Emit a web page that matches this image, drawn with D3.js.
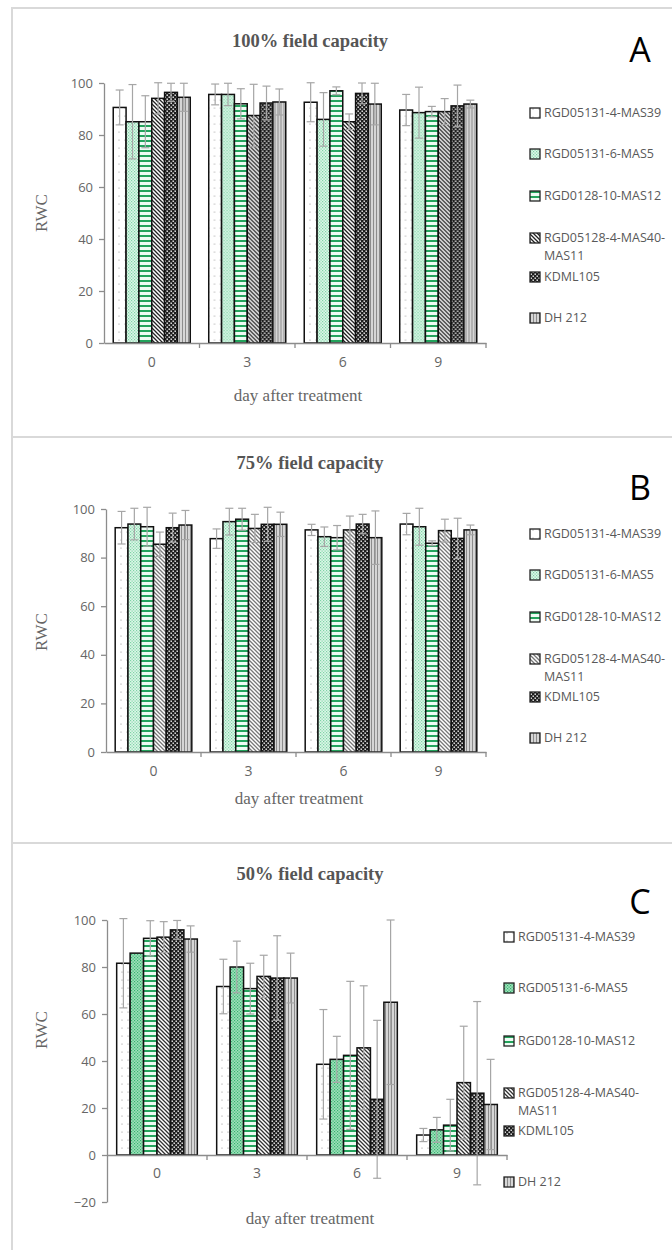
<!DOCTYPE html>
<html>
<head>
<meta charset="utf-8">
<script src="https://cdn.jsdelivr.net/npm/d3@7"></script>
<style>
  body { margin: 0; background: #fff; }
  svg { display: block; }
</style>
</head>
<body>
<svg id="chart" width="672" height="1250"></svg>
<script>
////////////////////////////////////////////////////////////////////////////////
// Data
var days = ["0", "3", "6", "9"]
var cultivars = ["RGD05131-4-MAS39", "RGD05131-6-MAS5", "RGD0128-10-MAS12",
                 "RGD05128-4-MAS40-MAS11", "KDML105", "DH 212"]
var legendLines = [["RGD05131-4-MAS39"], ["RGD05131-6-MAS5"], ["RGD0128-10-MAS12"],
                   ["RGD05128-4-MAS40-", "MAS11"], ["KDML105"], ["DH 212"]]

// rows = day, columns = cultivar
var rwc100 = [[90.6, 85.1, 85.1, 94.1, 96.4, 94.5],
              [95.6, 95.6, 92.0, 87.5, 92.3, 92.7],
              [92.6, 86.0, 97.0, 85.1, 96.0, 91.9],
              [89.6, 88.6, 89.0, 89.0, 91.2, 91.9]]
var err100 = [[6.7, 14.3, 10, 6, 3.5, 5.4],
              [4, 4.3, 5.8, 12, 6.5, 5],
              [7.5, 10.3, 1.5, 3, 4, 8],
              [6, 9.8, 2, 5, 8, 1.5]]

var rwc75 = [[92.3, 93.8, 92.7, 85.5, 92.3, 93.4],
             [87.8, 94.8, 95.8, 92.0, 93.7, 93.7],
             [91.4, 88.6, 88.2, 91.4, 93.8, 88.2],
             [93.8, 92.7, 85.9, 91.1, 87.9, 91.4]]
var err75 = [[6.7, 6.5, 8, 5, 6, 6],
             [4, 5.5, 4.5, 5.8, 7, 5],
             [2.3, 4, 5, 5.7, 4, 11],
             [4.4, 7.6, 1, 4.7, 8.3, 2]]

var rwc50 = [[81.6, 85.9, 92.2, 92.7, 95.8, 91.9],
             [71.7, 80.0, 70.8, 76.0, 75.3, 75.3],
             [38.6, 40.7, 42.4, 45.6, 23.7, 65.0],
             [8.5, 10.7, 12.7, 30.8, 26.3, 21.5]]
var err50 = [[19, 0, 7.5, 6.6, 4, 5.6],
             [11.6, 11, 10.8, 9, 18, 10.6],
             [23.3, 9.8, 31.5, 26.4, 33.6, 35],
             [2.8, 5.3, 11, 24, 39, 19.2]]

var yTicks100 = [0, 20, 40, 60, 80, 100]
var yTicks50 = [-20, 0, 20, 40, 60, 80, 100]

////////////////////////////////////////////////////////////////////////////////
// Layout
var panels = [
  { title: "100% field capacity", letter: "A", values: rwc100, errors: err100,
    ticks: yTicks100, box: [12, 8, 437], titleY: 47, letterY: 62,
    x: [104, 486], y: [343, 83], domain: [0, 100], tickY: 371, xTitleY: 401, rwcY: 213,
    legX: 530, legY: [113, 154, 196, 238, 277, 318], hatch: "#222", green: "light" },
  { title: "75% field capacity", letter: "B", values: rwc75, errors: err75,
    ticks: yTicks100, box: [12, 437, 843], titleY: 469, letterY: 500,
    x: [106, 486], y: [752, 509], domain: [0, 100], tickY: 780, xTitleY: 804, rwcY: 632,
    legX: 530, legY: [534, 575, 617, 659, 697, 738], hatch: "#777", green: "light" },
  { title: "50% field capacity", letter: "C", values: rwc50, errors: err50,
    ticks: yTicks50, box: [12, 843, 1262], titleY: 880, letterY: 914,
    x: [107, 507], y: [1202, 920], domain: [-20, 100], tickY: 1182, xTitleY: 1224, rwcY: 1030,
    legX: 504, legY: [937, 988, 1041, 1093, 1131, 1182], hatch: "#333", green: "strong" }
]

var svg = d3.select("#chart")
var defs = svg.append("defs")

function pattern(id, w, h) {
  return defs.append("pattern").attr("id", id)
    .attr("patternUnits", "userSpaceOnUse").attr("width", w).attr("height", h)
}

// 1: white with sparse dots
var p = pattern("dots", 6, 8)
p.append("rect").attr("width", 6).attr("height", 8).attr("fill", "#fff")
p.append("circle").attr("cx", 3).attr("cy", 4).attr("r", 0.6).attr("fill", "#8a8a8a")

// 2: green fine dots
;[["light", "#dcf7e8", "#7fd3a6"], ["strong", "#9fe0bb", "#33b36e"]].forEach(function(c) {
  var q = pattern("green-" + c[0], 3, 3)
  q.append("rect").attr("width", 3).attr("height", 3).attr("fill", c[1])
  q.append("rect").attr("x", 0).attr("y", 0).attr("width", 1.2).attr("height", 1.2).attr("fill", c[2])
  q.append("rect").attr("x", 1.5).attr("y", 1.5).attr("width", 1.2).attr("height", 1.2).attr("fill", c[2])
})

// 3: horizontal green stripes
p = pattern("hstripe", 4, 5)
p.append("rect").attr("width", 4).attr("height", 5).attr("fill", "#eefbf3")
p.append("rect").attr("y", 0).attr("width", 4).attr("height", 2).attr("fill", "#23a35c")

// 4: diagonal hatch, one per panel colour
panels.forEach(function(pn, i) {
  var q = pattern("hatch" + i, 4, 4)
  q.append("rect").attr("width", 4).attr("height", 4).attr("fill", "#fff")
  q.append("path").attr("d", "M-1,-1 L5,5 M-1,3 L1,5 M3,-1 L5,1")
    .attr("stroke", pn.hatch).attr("stroke-width", 1.3)
})

// 5: dark checker
p = pattern("checker", 4, 4)
p.append("rect").attr("width", 4).attr("height", 4).attr("fill", "#1e1e1e")
p.append("rect").attr("x", 0.5).attr("y", 0.5).attr("width", 1.4).attr("height", 1.4).attr("fill", "#fff")
p.append("rect").attr("x", 2.5).attr("y", 2.5).attr("width", 1.4).attr("height", 1.4).attr("fill", "#fff")

// 6: vertical gray stripes
p = pattern("vstripe", 3, 4)
p.append("rect").attr("width", 3).attr("height", 4).attr("fill", "#d6d6d6")
p.append("rect").attr("width", 1).attr("height", 4).attr("fill", "#8c8c8c")

function fills(i, pn) {
  return ["url(#dots)", "url(#green-" + pn.green + ")", "url(#hstripe)",
          "url(#hatch" + i + ")", "url(#checker)", "url(#vstripe)"]
}

var axisColor = "#8c8c8c"
var textColor = "#666"
var sans = "'Open Sans', 'DejaVu Sans', sans-serif"
var serif = "'Liberation Serif', 'DejaVu Serif', serif"

panels.forEach(function(pn, pi) {
  var g = svg.append("g")
  var fill = fills(pi, pn)

  // frame
  g.append("rect").attr("x", pn.box[0]).attr("y", pn.box[1])
    .attr("width", 700).attr("height", pn.box[2] - pn.box[1])
    .attr("fill", "none").attr("stroke", "#d9d9d9").attr("stroke-width", 2)

  g.append("text").attr("x", 310).attr("y", pn.titleY)
    .attr("text-anchor", "middle").attr("font-family", serif)
    .attr("font-weight", "bold").attr("font-size", 18.5).attr("fill", "#555")
    .text(pn.title)
  g.append("text").attr("x", 640).attr("y", pn.letterY)
    .attr("text-anchor", "middle").attr("font-family", sans)
    .attr("font-size", 34).attr("fill", "#000")
    .text(pn.letter)

  var x0 = d3.scaleBand().domain(days).range(pn.x).padding(0)
  var x1 = d3.scaleBand().domain(d3.range(cultivars.length))
    .range([0, x0.bandwidth()]).paddingInner(0).paddingOuter(0.72)
  var y = d3.scaleLinear().domain(pn.domain).range(pn.y)

  // bars
  var groups = g.selectAll("g.day").data(days).join("g")
    .attr("transform", function(d) { return "translate(" + x0(d) + ",0)" })
  groups.each(function(d, di) {
    var vals = pn.values[di].map(function(v, ci) {
      return { v: v, e: pn.errors[di][ci], c: ci }
    })
    var gg = d3.select(this)
    gg.selectAll("rect").data(vals).join("rect")
      .attr("x", function(o) { return x1(o.c) })
      .attr("y", function(o) { return y(o.v) })
      .attr("width", x1.bandwidth())
      .attr("height", function(o) { return y(0) - y(o.v) })
      .attr("fill", function(o) { return fill[o.c] })
      .attr("stroke", "#111").attr("stroke-width", 1.5)
    var eb = gg.selectAll("g.err").data(vals.filter(function(o) { return o.e > 0 }))
      .join("g").attr("stroke", "#a6a6a6").attr("stroke-width", 1.2)
    eb.append("line")
      .attr("x1", function(o) { return x1(o.c) + x1.bandwidth() / 2 })
      .attr("x2", function(o) { return x1(o.c) + x1.bandwidth() / 2 })
      .attr("y1", function(o) { return y(o.v - o.e) })
      .attr("y2", function(o) { return y(o.v + o.e) })
    ;[1, -1].forEach(function(s) {
      eb.append("line")
        .attr("x1", function(o) { return x1(o.c) + x1.bandwidth() / 2 - 4 })
        .attr("x2", function(o) { return x1(o.c) + x1.bandwidth() / 2 + 4 })
        .attr("y1", function(o) { return y(o.v + s * o.e) })
        .attr("y2", function(o) { return y(o.v + s * o.e) })
    })
  })

  // y axis
  var ya = g.append("g").attr("transform", "translate(" + pn.x[0] + ",0)")
    .call(d3.axisLeft(y).tickValues(pn.ticks).tickSize(5).tickSizeOuter(0).tickPadding(6))
  ya.select(".domain").attr("stroke", axisColor).attr("stroke-width", 1.3)
  ya.selectAll(".tick line").attr("stroke", axisColor).attr("stroke-width", 1.3)
  ya.selectAll(".tick text").attr("font-family", sans).attr("font-size", 13).attr("fill", textColor)

  // x axis along zero
  var xa = g.append("g").attr("transform", "translate(0," + y(0) + ")")
    .call(d3.axisBottom(x0).tickSize(0).tickSizeOuter(0))
  xa.select(".domain").attr("stroke", axisColor).attr("stroke-width", 1.3)
  xa.selectAll(".tick text").attr("font-family", sans).attr("font-size", 14)
    .attr("fill", textColor).attr("y", pn.tickY - y(0) - 14).attr("dy", "0.71em")
  xa.selectAll("line.bound").data(days).join("line").attr("class", "bound")
    .attr("x1", function(d) { return x0(d) + x0.bandwidth() })
    .attr("x2", function(d) { return x0(d) + x0.bandwidth() })
    .attr("y1", 0).attr("y2", 5)
    .attr("stroke", axisColor).attr("stroke-width", 1.3)

  g.append("text").attr("x", (pn.x[0] + pn.x[1]) / 2 + 3).attr("y", pn.xTitleY)
    .attr("text-anchor", "middle").attr("font-family", serif)
    .attr("font-size", 17).attr("fill", textColor)
    .text("day after treatment")
  g.append("text").attr("transform", "translate(47," + pn.rwcY + ") rotate(-90)")
    .attr("text-anchor", "middle").attr("font-family", serif)
    .attr("font-size", 17).attr("fill", textColor)
    .text("RWC")

  // legend
  var leg = g.selectAll("g.leg").data(legendLines).join("g")
    .attr("transform", function(d, i) { return "translate(" + pn.legX + "," + pn.legY[i] + ")" })
  leg.append("rect").attr("x", 0).attr("y", -5).attr("width", 10).attr("height", 10)
    .attr("fill", function(d, i) { return fill[i] })
    .attr("stroke", "#222").attr("stroke-width", 1.3)
  leg.each(function(lines) {
    d3.select(this).selectAll("text").data(lines).join("text")
      .attr("x", 14).attr("y", function(t, k) { return k * 18 })
      .attr("dy", "0.35em").attr("font-family", sans).attr("font-size", 12.5)
      .attr("fill", "#595959").text(function(t) { return t })
  })
})
</script>
</body>
</html>
